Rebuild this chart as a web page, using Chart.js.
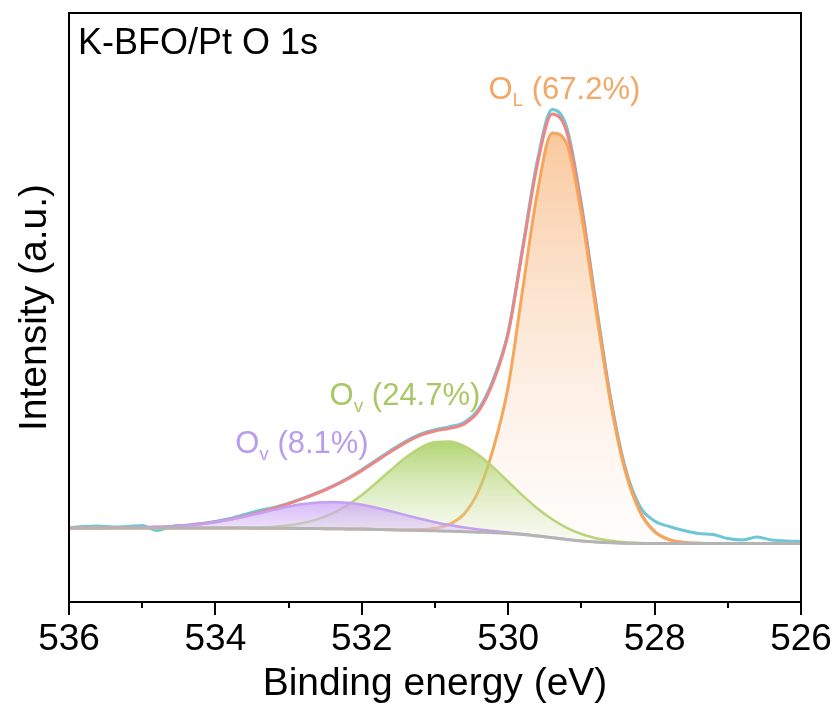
<!DOCTYPE html>
<html>
<head>
<meta charset="utf-8">
<script src="https://cdn.jsdelivr.net/npm/chart.js@4.4.1/dist/chart.umd.min.js"></script>
<style>
  html, body { margin: 0; padding: 0; background: #fff; }
</style>
</head>
<body>
<canvas id="chartO1s" width="837" height="708"></canvas>
<script>
const FONT = '"Liberation Sans", Arial, Helvetica, sans-serif';

// binding energy grid (eV), 0.2 eV step
const energies = [
  536.0, 535.8, 535.6, 535.4, 535.2, 535.0, 534.8, 534.6, 534.4, 534.2,
  534.0, 533.8, 533.6, 533.4, 533.2, 533.0, 532.8, 532.6, 532.4, 532.2,
  532.0, 531.8, 531.6, 531.4, 531.2, 531.0, 530.8, 530.6, 530.4, 530.2,
  530.0, 529.8, 529.6, 529.4, 529.2, 529.0, 528.8, 528.6, 528.4, 528.2,
  528.0, 527.8, 527.6, 527.4, 527.2, 527.0, 526.8, 526.6, 526.4, 526.2, 526.0
];

// measured spectrum (a.u.)
const rawCounts = [
  74.5, 75.5, 76.0, 75.0, 75.5, 76.5, 71.5, 75.6, 76.8, 78.5,
  80.5, 83.5, 87.5, 91.5, 94.5, 98.8, 103.8, 109.6, 116.0, 123.5,
  132.3, 142.0, 151.8, 160.8, 167.9, 172.3, 175.3, 179.8, 193.5, 223.5,
  270.5, 356.0, 442.0, 492.5, 474.5, 398.0, 298.5, 204.0, 134.0, 95.5,
  81.0, 75.5, 71.5, 68.5, 67.5, 63.5, 62.0, 65.0, 62.0, 61.0, 60.5
];

// fitted envelope
const envelope = [
  74.0, 74.0, 74.1, 74.2, 74.3, 74.5, 75.0, 75.6, 76.6, 78.1,
  80.1, 82.7, 85.8, 89.5, 93.6, 98.4, 103.4, 109.0, 115.4, 122.9,
  131.4, 141.0, 150.6, 159.4, 166.6, 171.0, 173.7, 178.0, 191.3, 221.0,
  268.4, 353.2, 438.0, 488.0, 470.0, 394.5, 295.3, 201.1, 131.8, 90.7,
  70.5, 62.4, 59.5, 58.7, 58.5, 58.5, 58.5, 58.5, 58.5, 58.5, 58.5
];

// lattice oxygen component O_L (on background)
const latticeO = [
  74.0, 74.0, 74.0, 74.0, 74.0, 74.0, 74.0, 74.0, 74.0, 74.0,
  73.9, 73.9, 73.9, 73.8, 73.7, 73.7, 73.6, 73.4, 73.3, 73.1,
  72.9, 72.6, 72.3, 71.9, 72.4, 73.7, 77.8, 88.3, 111.8, 154.3,
  215.5, 313.7, 410.1, 469.0, 458.0, 387.6, 291.5, 199.1, 130.8, 90.2,
  70.3, 62.3, 59.5, 58.7, 58.5, 58.5, 58.5, 58.5, 58.5, 58.5, 58.5
];

// vacancy oxygen component O_v 24.7%
const vacancyO = [
  74.0, 74.0, 74.0, 74.0, 74.0, 74.0, 74.0, 74.0, 74.0, 74.0,
  74.0, 74.1, 74.2, 74.5, 75.2, 76.7, 79.1, 82.9, 88.7, 96.8,
  107.1, 119.3, 132.2, 144.4, 154.2, 159.9, 160.6, 155.9, 146.7, 134.4,
  120.4, 106.4, 93.5, 82.7, 74.2, 68.0, 63.8, 61.2, 59.8, 59.1,
  58.7, 58.6, 58.5, 58.5, 58.5, 58.5, 58.5, 58.5, 58.5, 58.5, 58.5
];

// adsorbed oxygen component O_v 8.1%
const adsorbedO = [
  74.0, 74.0, 74.1, 74.2, 74.3, 74.5, 75.0, 75.6, 76.6, 78.1,
  80.0, 82.5, 85.5, 88.8, 92.1, 95.4, 97.9, 99.5, 100.0, 99.2,
  97.2, 94.3, 90.7, 86.9, 83.2, 79.8, 76.9, 74.4, 72.4, 70.9,
  69.5, 67.9, 66.2, 64.5, 62.7, 61.1, 60.0, 59.2, 58.8, 58.6,
  58.5, 58.5, 58.5, 58.5, 58.5, 58.5, 58.5, 58.5, 58.5, 58.5, 58.5
];

// Shirley background
const background = [
  74.0, 74.0, 74.0, 74.0, 74.0, 74.0, 74.0, 74.0, 74.0, 74.0,
  73.9, 73.9, 73.9, 73.8, 73.7, 73.7, 73.6, 73.4, 73.3, 73.1,
  72.9, 72.6, 72.3, 71.9, 71.6, 71.2, 70.8, 70.3, 69.8, 69.3,
  68.5, 67.4, 65.9, 64.3, 62.6, 61.1, 60.0, 59.2, 58.8, 58.6,
  58.5, 58.5, 58.5, 58.5, 58.5, 58.5, 58.5, 58.5, 58.5, 58.5, 58.5
];

const peakLabels = [
  { main: "O", sub: "L", rest: " (67.2%)", x: 530.27, y: 503, color: "#f2a766" },
  { main: "O", sub: "v", rest: " (24.7%)", x: 532.44, y: 197, color: "#a9c865" },
  { main: "O", sub: "v", rest: " (8.1%)", x: 533.73, y: 149, color: "#b99cec" },
];

const sampleTitle = "K-BFO/Pt O 1s";

function pts(values) {
  return energies.map((e, i) => ({ x: e, y: values[i] }));
}

function peakFill(top, bottom) {
  return (ctx) => {
    const chart = ctx.chart;
    if (!chart.chartArea) return bottom;
    const y = chart.scales.y;
    const vals = ctx.dataset.data.map((p) => p.y);
    const g = chart.ctx.createLinearGradient(0, y.getPixelForValue(Math.max(...vals)), 0, y.getPixelForValue(Math.min(...vals)));
    g.addColorStop(0, top);
    g.addColorStop(1, bottom);
    return g;
  };
}

const frameAndTicks = {
  id: "frameAndTicks",
  afterDraw(chart) {
    const { ctx, chartArea: a, scales } = chart;
    ctx.save();
    ctx.strokeStyle = "#000";
    ctx.lineWidth = 2;
    ctx.strokeRect(a.left, a.top, a.right - a.left, a.bottom - a.top);
    ctx.beginPath();
    scales.x.ticks.forEach((t) => {
      const px = Math.round(scales.x.getPixelForValue(t.value));
      const len = t.value % 2 === 0 ? 13 : 6;
      ctx.moveTo(px, a.bottom);
      ctx.lineTo(px, a.bottom + len);
    });
    ctx.stroke();

    ctx.fillStyle = "#000";
    ctx.font = `36px ${FONT}`;
    ctx.textBaseline = "alphabetic";
    ctx.fillText(sampleTitle, a.left + 9, a.top + 41);

    peakLabels.forEach((l) => {
      let px = scales.x.getPixelForValue(l.x);
      const py = scales.y.getPixelForValue(l.y);
      ctx.fillStyle = l.color;
      ctx.font = `31px ${FONT}`;
      ctx.fillText(l.main, px, py);
      px += ctx.measureText(l.main).width;
      ctx.font = `19px ${FONT}`;
      ctx.fillText(l.sub, px, py + 7);
      px += ctx.measureText(l.sub).width;
      ctx.font = `31px ${FONT}`;
      ctx.fillText(l.rest, px, py);
    });
    ctx.restore();
  },
};

const line = { pointRadius: 0, cubicInterpolationMode: "monotone", fill: false };

new Chart(document.getElementById("chartO1s").getContext("2d"), {
  type: "line",
  data: {
    datasets: [
      { ...line, label: "Raw", data: pts(rawCounts), borderColor: "#6ec6d6", borderWidth: 3, order: 5 },
      { ...line, label: "Envelope", data: pts(envelope), borderColor: "#ee8585", borderWidth: 3, order: 4 },
      {
        ...line, label: "O_L", data: pts(latticeO), borderColor: "#f7a659", borderWidth: 3, order: 3,
        fill: 5, backgroundColor: peakFill("rgba(247,180,120,0.72)", "rgba(250,220,200,0.06)"),
      },
      {
        ...line, label: "O_v 24.7", data: pts(vacancyO), borderColor: "#b9d57a", borderWidth: 2.5, order: 2,
        fill: 5, backgroundColor: peakFill("rgba(165,205,90,0.85)", "rgba(215,235,185,0.12)"),
      },
      {
        ...line, label: "O_v 8.1", data: pts(adsorbedO), borderColor: "#c49ff2", borderWidth: 2.5, order: 1,
        fill: 5, backgroundColor: peakFill("rgba(200,160,245,0.75)", "rgba(225,205,250,0.3)"),
      },
      { ...line, label: "Background", data: pts(background), borderColor: "#b4b4b4", borderWidth: 3, order: 0 },
    ],
  },
  options: {
    responsive: false,
    animation: false,
    devicePixelRatio: 1,
    layout: { padding: { left: 10, right: 36, top: 13, bottom: 0 } },
    plugins: { legend: { display: false }, tooltip: { enabled: false } },
    scales: {
      x: {
        type: "linear",
        min: 526,
        max: 536,
        reverse: true,
        grid: { display: true, drawOnChartArea: false, drawTicks: true, tickLength: 15, tickColor: "rgba(0,0,0,0)" },
        border: { display: false },
        ticks: {
          stepSize: 1,
          autoSkip: false,
          maxRotation: 0,
          padding: 4,
          color: "#000",
          font: { family: FONT, size: 37, lineHeight: 1 },
          callback: (v) => (v % 2 === 0 ? String(v) : ""),
        },
        title: {
          display: true,
          text: "Binding energy (eV)",
          color: "#000",
          font: { family: FONT, size: 39, lineHeight: 1 },
          padding: { top: 3, bottom: 4 },
        },
      },
      y: {
        min: 0,
        max: 589,
        grid: { display: false, drawTicks: false },
        border: { display: false },
        ticks: { display: false },
        title: {
          display: true,
          text: "Intensity (a.u.)",
          color: "#000",
          font: { family: FONT, size: 39, lineHeight: 1 },
          padding: { top: 6, bottom: 14 },
        },
      },
    },
  },
  plugins: [frameAndTicks],
});
</script>
</body>
</html>
